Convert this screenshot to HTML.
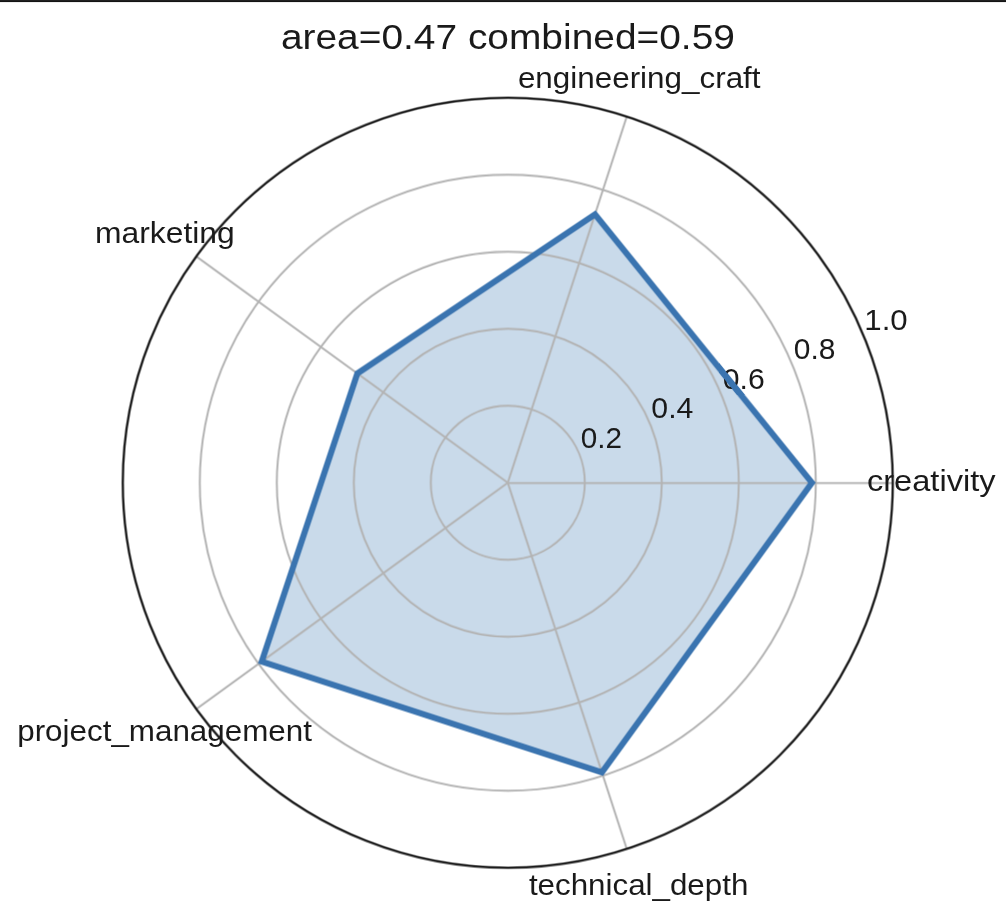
<!DOCTYPE html>
<html><head><meta charset="utf-8"><style>
html,body{margin:0;padding:0;background:#fff;}
body{width:1006px;height:910px;overflow:hidden;position:relative;}
svg{display:block;position:absolute;left:0;top:0;}
text{font-family:"Liberation Sans",sans-serif;fill:#1a1a1a;}
.top{position:absolute;left:0;top:0;width:1006px;height:1px;background:#202020;border-bottom:1px solid #131313;}
.top2{position:absolute;left:0;top:2px;width:1006px;height:1px;background:#ededed;}
</style></head><body>
<svg width="1006" height="910" viewBox="0 0 1006 910">
<defs><g id="c">
<rect x="-10" y="-10" width="1026" height="930" fill="#ffffff"/>
<polygon points="811.95,482.76 595.01,214.37 357.36,373.46 261.74,661.53 601.91,772.39" fill="#c9daea" stroke="none"/>
<circle cx="507.80" cy="482.76" r="77.00" fill="none" stroke="#b4b4b4" stroke-width="1.950"/>
<circle cx="507.80" cy="482.76" r="154.00" fill="none" stroke="#b4b4b4" stroke-width="1.950"/>
<circle cx="507.80" cy="482.76" r="231.00" fill="none" stroke="#b4b4b4" stroke-width="1.950"/>
<circle cx="507.80" cy="482.76" r="308.00" fill="none" stroke="#b4b4b4" stroke-width="1.950"/>
<line x1="507.80" y1="483.06" x2="892.80" y2="483.06" stroke="#b4b4b4" stroke-width="1.950"/>
<line x1="507.80" y1="482.76" x2="626.77" y2="116.60" stroke="#b4b4b4" stroke-width="1.950"/>
<line x1="507.80" y1="482.76" x2="196.33" y2="256.46" stroke="#b4b4b4" stroke-width="1.950"/>
<line x1="507.80" y1="482.76" x2="196.33" y2="709.06" stroke="#b4b4b4" stroke-width="1.950"/>
<line x1="507.80" y1="482.76" x2="626.77" y2="848.92" stroke="#b4b4b4" stroke-width="1.950"/>
<polygon points="811.95,482.76 595.01,214.37 357.36,373.46 261.74,661.53 601.91,772.39" fill="none" stroke="#3a74b0" stroke-width="6.0" stroke-linejoin="miter" stroke-miterlimit="10"/>
<circle cx="507.80" cy="482.76" r="385.00" fill="none" stroke="#1c1c1c" stroke-width="2.300"/>
</g></defs>
<use href="#c" transform="translate(-0.45,-0.45)"/>
<use href="#c" transform="translate(0.45,-0.45)" opacity="0.5000"/>
<use href="#c" transform="translate(-0.45,0.45)" opacity="0.3333"/>
<use href="#c" transform="translate(0.45,0.45)" opacity="0.2500"/>
<g style="will-change:transform">
<text x="280.93" y="49.42" font-size="34.70" textLength="453.97" lengthAdjust="spacingAndGlyphs">area=0.47 combined=0.59</text>
<text x="866.90" y="491.49" font-size="29.00" textLength="128.66" lengthAdjust="spacingAndGlyphs">creativity</text>
<text x="517.91" y="88.45" font-size="29.00" textLength="242.64" lengthAdjust="spacingAndGlyphs">engineering_craft</text>
<text x="94.92" y="242.52" font-size="29.00" textLength="139.82" lengthAdjust="spacingAndGlyphs">marketing</text>
<text x="17.24" y="740.54" font-size="29.00" textLength="294.69" lengthAdjust="spacingAndGlyphs">project_management</text>
<text x="528.91" y="894.74" font-size="29.00" textLength="219.40" lengthAdjust="spacingAndGlyphs">technical_depth</text>
<text x="580.68" y="448.22" font-size="29.13" textLength="41.28" lengthAdjust="spacingAndGlyphs">0.2</text>
<text x="651.39" y="418.12" font-size="29.13" textLength="42.05" lengthAdjust="spacingAndGlyphs">0.4</text>
<text x="722.81" y="388.81" font-size="29.13" textLength="41.91" lengthAdjust="spacingAndGlyphs">0.6</text>
<text x="793.81" y="359.15" font-size="29.13" textLength="41.60" lengthAdjust="spacingAndGlyphs">0.8</text>
<text x="864.32" y="330.02" font-size="29.13" textLength="43.37" lengthAdjust="spacingAndGlyphs">1.0</text>
</g>
<defs><clipPath id="k"><rect x="719.8" y="362.8" width="47.9" height="32"/></clipPath><g id="pl"><polygon points="811.95,482.76 595.01,214.37 357.36,373.46 261.74,661.53 601.91,772.39" fill="none" stroke="#3a74b0" stroke-width="6.0" stroke-linejoin="miter" stroke-miterlimit="10"/></g></defs><g clip-path="url(#k)"><use href="#pl"/></g>
</svg>
<div class="top"></div><div class="top2"></div>
</body></html>
